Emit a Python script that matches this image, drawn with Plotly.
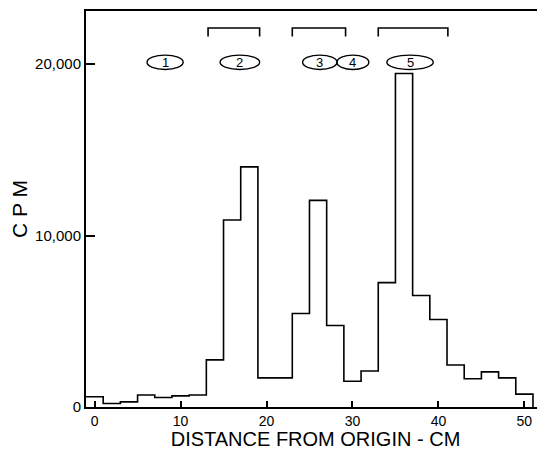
import plotly.graph_objects as go

# Histogram: bin centres (cm) and counts per minute
bin_centers = [0, 2, 4, 6, 8, 10, 12, 14, 16, 18, 20, 22, 24, 26, 28, 30,
               32, 34, 36, 38, 40, 42, 44, 46, 48, 50]
cpm = [600, 200, 300, 700, 550, 650, 700, 2750, 10900, 14000, 1700, 1700,
       5450, 12050, 4750, 1500, 2100, 7250, 19450, 6500, 5100, 2450, 1650,
       2050, 1700, 750]
bin_width = 2

# Band markers (ellipses) at the top
band_labels = ["1", "2", "3", "4", "5"]
band_x0 = [6.1, 14.6, 24.2, 28.2, 34.0]
band_x1 = [10.3, 19.2, 28.2, 31.9, 39.4]
band_y = 20100
band_half_height = 420

# Brackets above the bands
bracket_x0 = [13.2, 23.0, 33.0]
bracket_x1 = [19.2, 29.2, 41.1]
bracket_top = 22100
bracket_foot = 21600

x_ticks = [0, 10, 20, 30, 40, 50]
y_ticks = [0, 10000, 20000]

# Step outline built from bin edges
half = bin_width / 2
step_x = [c - half for c in bin_centers] + [bin_centers[-1] + half, bin_centers[-1] + half]
step_y = cpm + [cpm[-1], 0]

fig = go.Figure()
fig.add_trace(go.Scatter(x=step_x, y=step_y, mode="lines", line_shape="hv",
                         line=dict(color="black", width=1.6), showlegend=False,
                         hoverinfo="skip"))

# brackets
bx, by = [], []
for a, b in zip(bracket_x0, bracket_x1):
    bx += [a, a, b, b, None]
    by += [bracket_foot, bracket_top, bracket_top, bracket_foot, None]
fig.add_trace(go.Scatter(x=bx, y=by, mode="lines", line=dict(color="black", width=1.6),
                         showlegend=False, hoverinfo="skip"))

FONT = "Liberation Sans"
for lab, a, b in zip(band_labels, band_x0, band_x1):
    fig.add_shape(type="circle", xref="x", yref="y", x0=a, x1=b,
                  y0=band_y - band_half_height, y1=band_y + band_half_height,
                  line=dict(color="black", width=1.4))
    fig.add_annotation(x=(a + b) / 2, y=band_y, text=lab, showarrow=False,
                       font=dict(family=FONT, size=13, color="black"))

# right-side tick marks
for v in y_ticks[1:]:
    fig.add_shape(type="line", xref="paper", yref="y", x0=0.984, x1=1.0, y0=v, y1=v,
                  line=dict(color="black", width=2))

fig.update_layout(
    width=537, height=442,
    margin=dict(l=78, r=0, t=3, b=43),
    paper_bgcolor="white", plot_bgcolor="white",
    font=dict(family=FONT, color="black"),
    xaxis=dict(range=[-1.0, 52.4], tickvals=x_ticks, ticks="inside", ticklen=6,
               tickwidth=2, tickcolor="black", showline=True, linecolor="black",
               linewidth=2, mirror=True, showgrid=False, zeroline=False,
               tickfont=dict(size=14),
               title=dict(text="DISTANCE FROM ORIGIN - CM", font=dict(size=20), standoff=5)),
    yaxis=dict(range=[0, 23090], tickvals=y_ticks, tickformat=",", ticks="inside",
               ticklen=9, tickwidth=2, tickcolor="black", showline=True,
               linecolor="black", linewidth=2, showgrid=False, zeroline=False,
               tickfont=dict(size=15),
               title=dict(text="C P M", font=dict(size=21), standoff=4)),
)

fig.write_html("out.html")
